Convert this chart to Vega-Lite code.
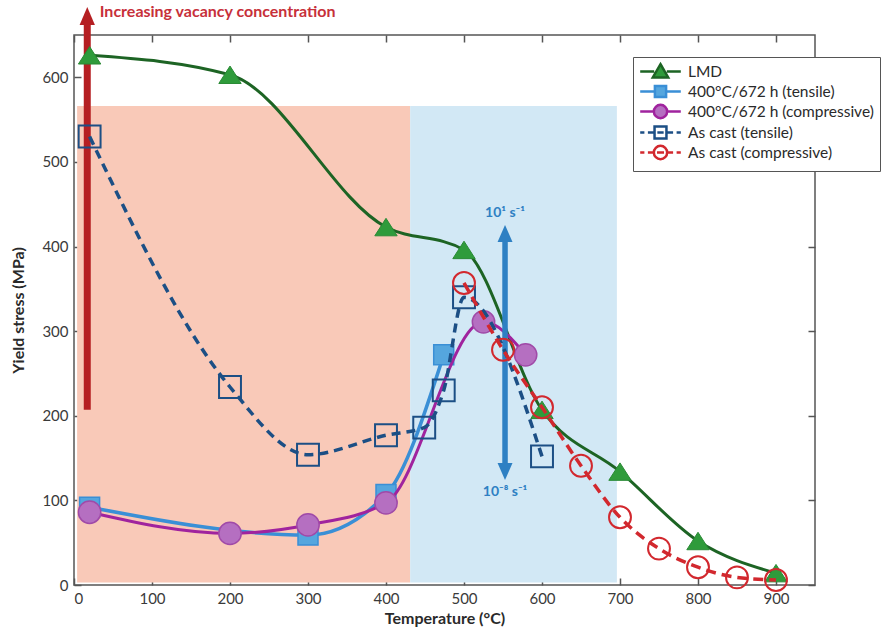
{
  "$schema": "https://vega.github.io/schema/vega-lite/v6.json",
  "width": 741,
  "height": 550,
  "autosize": {"type": "none"},
  "padding": {"left": 74, "top": 35, "right": 68, "bottom": 48},
  "background": "white",
  "datasets": {
    "pts": [
      {"series": "LMD", "t": 20, "s": 626},
      {"series": "LMD", "t": 200, "s": 603},
      {"series": "LMD", "t": 400, "s": 423},
      {"series": "LMD", "t": 500, "s": 396},
      {"series": "LMD", "t": 600, "s": 207},
      {"series": "LMD", "t": 700, "s": 134},
      {"series": "LMD", "t": 800, "s": 52},
      {"series": "LMD", "t": 900, "s": 14},
      {"series": "400°C/672 h (tensile)", "t": 20, "s": 92},
      {"series": "400°C/672 h (tensile)", "t": 300, "s": 59},
      {"series": "400°C/672 h (tensile)", "t": 400, "s": 107},
      {"series": "400°C/672 h (tensile)", "t": 474, "s": 272},
      {"series": "400°C/672 h (compressive)", "t": 20, "s": 86},
      {"series": "400°C/672 h (compressive)", "t": 200, "s": 61},
      {"series": "400°C/672 h (compressive)", "t": 300, "s": 71},
      {"series": "400°C/672 h (compressive)", "t": 400, "s": 97},
      {"series": "400°C/672 h (compressive)", "t": 525, "s": 311},
      {"series": "400°C/672 h (compressive)", "t": 579, "s": 272},
      {"series": "As cast (tensile)", "t": 20, "s": 530},
      {"series": "As cast (tensile)", "t": 200, "s": 234},
      {"series": "As cast (tensile)", "t": 300, "s": 154},
      {"series": "As cast (tensile)", "t": 400, "s": 177},
      {"series": "As cast (tensile)", "t": 449, "s": 186},
      {"series": "As cast (tensile)", "t": 474, "s": 230},
      {"series": "As cast (tensile)", "t": 500, "s": 340},
      {"series": "As cast (tensile)", "t": 600, "s": 152},
      {"series": "As cast (compressive)", "t": 500, "s": 357},
      {"series": "As cast (compressive)", "t": 550, "s": 278},
      {"series": "As cast (compressive)", "t": 600, "s": 210},
      {"series": "As cast (compressive)", "t": 650, "s": 141},
      {"series": "As cast (compressive)", "t": 700, "s": 80},
      {"series": "As cast (compressive)", "t": 750, "s": 43},
      {"series": "As cast (compressive)", "t": 800, "s": 21},
      {"series": "As cast (compressive)", "t": 850, "s": 9},
      {"series": "As cast (compressive)", "t": 900, "s": 6}
    ],
    "bands": [
      {"zone": "pink", "t": 4, "t2": 431, "s": 3, "s2": 566},
      {"zone": "blue", "t": 431, "t2": 696, "s": 3, "s2": 566}
    ],
    "arrows": [
      {"arrow": "vacancy", "t": 17, "s": 207, "s2": 664, "head": 672.6, "dir": "up"},
      {"arrow": "rate", "t": 552.6, "s": 138, "s2": 412, "head": 415.5, "dir": "up"},
      {"arrow": "rate", "t": 552.6, "s": 138, "s2": 412, "head": 134.2, "dir": "down"}
    ],
    "labels": [
      {"kind": "vacancy", "label": "Increasing vacancy concentration", "t": 33, "s": 677},
      {"kind": "rate", "label": "10¹ s⁻¹", "t": 552.6, "s": 440},
      {"kind": "rate", "label": "10⁻⁸ s⁻¹", "t": 552.6, "s": 110}
    ]
  },
  "layer": [
    {
      "encoding": {
        "x": {
          "field": "t", "type": "quantitative",
          "scale": {"domain": [0, 950], "nice": false, "zero": false},
          "axis": {"title": "Temperature (°C)", "values": [0, 100, 200, 300, 400, 500, 600, 700, 800, 900], "titlePadding": 4}
        },
        "y": {
          "field": "s", "type": "quantitative",
          "scale": {"domain": [0, 650], "nice": false},
          "axis": {"title": "Yield stress (MPa)", "values": [0, 100, 200, 300, 400, 500, 600], "titlePadding": 15}
        }
      },
      "layer": [
        {
          "data": {"name": "bands"},
          "transform": [{"filter": {"field": "zone", "equal": "pink"}}],
          "mark": {"type": "rect", "color": "#f9c9b8", "opacity": 1},
          "encoding": {"x2": {"field": "t2"}, "y2": {"field": "s2"}}
        },
        {
          "data": {"name": "bands"},
          "transform": [{"filter": {"field": "zone", "equal": "blue"}}],
          "mark": {"type": "rect", "color": "#d2e8f5", "opacity": 1},
          "encoding": {"x2": {"field": "t2"}, "y2": {"field": "s2"}}
        },
        {
          "data": {"name": "arrows"},
          "transform": [{"filter": {"field": "arrow", "equal": "vacancy"}}],
          "mark": {"type": "rule", "color": "#b51f22", "strokeWidth": 7, "strokeCap": "butt"},
          "encoding": {"y2": {"field": "s2"}}
        },
        {
          "data": {"name": "arrows"},
          "transform": [{"filter": {"field": "arrow", "equal": "vacancy"}}],
          "mark": {"type": "point", "shape": "M0,-1L0.85,1H-0.85Z", "size": 324, "filled": true, "color": "#b51f22", "opacity": 1},
          "encoding": {"y": {"field": "head", "type": "quantitative"}}
        },
        {
          "data": {"name": "labels"},
          "transform": [{"filter": {"field": "kind", "equal": "vacancy"}}],
          "mark": {"type": "text", "align": "left", "baseline": "middle", "font": "Lato", "fontSize": 16, "fontWeight": "bold", "color": "#c7303a"},
          "encoding": {"text": {"field": "label"}}
        },
        {
          "data": {"name": "pts"},
          "transform": [{"filter": {"field": "series", "equal": "LMD"}}],
          "mark": {"type": "line", "interpolate": "monotone", "color": "#1d6424", "strokeWidth": 3}
        },
        {
          "data": {"name": "pts"},
          "transform": [{"filter": {"field": "series", "equal": "LMD"}}],
          "mark": {"type": "point", "shape": "M0,-0.78L1,0.78H-1Z", "size": 500, "filled": true, "fill": "#2f9b3b", "stroke": "#2a8a35", "strokeWidth": 1, "opacity": 1}
        },
        {
          "data": {"name": "pts"},
          "transform": [{"filter": {"field": "series", "equal": "400°C/672 h (tensile)"}}],
          "mark": {"type": "line", "interpolate": "monotone", "color": "#3a8fd6", "strokeWidth": 3.5}
        },
        {
          "data": {"name": "pts"},
          "transform": [{"filter": {"field": "series", "equal": "400°C/672 h (tensile)"}}],
          "mark": {"type": "point", "shape": "square", "size": 400, "filled": true, "fill": "#55a6de", "stroke": "#3a8fd6", "strokeWidth": 1.5, "opacity": 1}
        },
        {
          "data": {"name": "pts"},
          "transform": [{"filter": {"field": "series", "equal": "400°C/672 h (compressive)"}}],
          "mark": {"type": "line", "interpolate": "monotone", "color": "#a0239e", "strokeWidth": 3}
        },
        {
          "data": {"name": "pts"},
          "transform": [{"filter": {"field": "series", "equal": "400°C/672 h (compressive)"}}],
          "mark": {"type": "point", "shape": "circle", "size": 500, "filled": true, "fill": "#b56fc1", "stroke": "#a04aa8", "strokeWidth": 1.5, "opacity": 1}
        },
        {
          "data": {"name": "arrows"},
          "transform": [{"filter": {"field": "arrow", "equal": "rate"}}, {"filter": {"field": "dir", "equal": "up"}}],
          "mark": {"type": "rule", "color": "#2e80c3", "strokeWidth": 5.5, "strokeCap": "butt"},
          "encoding": {"y2": {"field": "s2"}}
        },
        {
          "data": {"name": "arrows"},
          "transform": [{"filter": {"field": "arrow", "equal": "rate"}}, {"filter": {"field": "dir", "equal": "up"}}],
          "mark": {"type": "point", "shape": "M0,-1L0.88,1H-0.88Z", "size": 289, "filled": true, "color": "#2e80c3", "opacity": 1},
          "encoding": {"y": {"field": "head", "type": "quantitative"}}
        },
        {
          "data": {"name": "arrows"},
          "transform": [{"filter": {"field": "arrow", "equal": "rate"}}, {"filter": {"field": "dir", "equal": "down"}}],
          "mark": {"type": "point", "shape": "M0,1L0.88,-1H-0.88Z", "size": 289, "filled": true, "color": "#2e80c3", "opacity": 1},
          "encoding": {"y": {"field": "head", "type": "quantitative"}}
        },
        {
          "data": {"name": "labels"},
          "transform": [{"filter": {"field": "kind", "equal": "rate"}}],
          "mark": {"type": "text", "align": "center", "baseline": "middle", "font": "Lato", "fontSize": 14, "fontWeight": "bold", "color": "#2e80c3"},
          "encoding": {"text": {"field": "label"}}
        },
        {
          "data": {"name": "pts"},
          "transform": [{"filter": {"field": "series", "equal": "As cast (tensile)"}}],
          "mark": {"type": "line", "interpolate": "monotone", "color": "#1c4f85", "strokeWidth": 3.5, "strokeDash": [9, 6]}
        },
        {
          "data": {"name": "pts"},
          "transform": [{"filter": {"field": "series", "equal": "As cast (tensile)"}}],
          "mark": {"type": "point", "shape": "square", "size": 480, "filled": false, "stroke": "#1c4f85", "strokeWidth": 2, "opacity": 1}
        },
        {
          "data": {"name": "pts"},
          "transform": [{"filter": {"field": "series", "equal": "As cast (compressive)"}}],
          "mark": {"type": "line", "interpolate": "monotone", "color": "#d2282e", "strokeWidth": 3.5, "strokeDash": [10, 6]}
        },
        {
          "data": {"name": "pts"},
          "transform": [{"filter": {"field": "series", "equal": "As cast (compressive)"}}],
          "mark": {"type": "point", "shape": "circle", "size": 480, "filled": false, "stroke": "#d2282e", "strokeWidth": 2, "opacity": 1}
        },
        {
          "data": {"values": []},
          "mark": {"type": "point", "filled": true, "size": 196, "strokeWidth": 2.5, "opacity": 1},
          "encoding": {
            "shape": {
              "field": "series", "type": "nominal",
              "scale": {
                "domain": ["LMD", "400°C/672 h (tensile)", "400°C/672 h (compressive)", "As cast (tensile)", "As cast (compressive)"],
                "range": [
                  "M-2.9,0H-0.9M0.9,0H2.9M0,-1.05L1.1,0.85H-1.1Z",
                  "M-2.9,0H-0.8M0.8,0H2.9M-0.8,-0.8H0.8V0.8H-0.8Z",
                  "M-2.9,0H-0.95M0.95,0H2.9M-0.95,0A0.95 0.95 0 1 0 0.95,0A0.95 0.95 0 1 0 -0.95,0Z",
                  "M-2.9,0H-2.3M-1.8,0H-0.85M0.85,0H1.8M2.3,0H2.9M-0.85,-0.85H0.85V0.85H-0.85ZM-0.45,0H0.45",
                  "M-2.9,0H-2.3M-1.8,0H-0.95M0.95,0H1.8M2.3,0H2.9M-0.95,0A0.95 0.95 0 1 0 0.95,0A0.95 0.95 0 1 0 -0.95,0ZM-0.5,0H0.5"
                ]
              },
              "legend": {"orient": "none", "legendX": 559, "legendY": 22, "title": null, "strokeColor": "#555", "fillColor": "white", "padding": 6, "symbolSize": 196, "symbolStrokeWidth": 2.5, "symbolOffset": 13, "labelOffset": 19, "labelLimit": 400, "labelFont": "Lato", "labelFontSize": 15.5, "labelColor": "#2a2a2a", "rowPadding": -4}
            },
            "stroke": {
              "field": "series", "type": "nominal",
              "scale": {
                "domain": ["LMD", "400°C/672 h (tensile)", "400°C/672 h (compressive)", "As cast (tensile)", "As cast (compressive)"],
                "range": ["#1d6424", "#3a8fd6", "#a0239e", "#1c4f85", "#d2282e"]
              },
              "legend": {"orient": "none", "legendX": 559, "legendY": 22, "title": null, "strokeColor": "#555", "fillColor": "white", "padding": 6, "symbolSize": 196, "symbolStrokeWidth": 2.5, "symbolOffset": 13, "labelOffset": 19, "labelLimit": 400, "labelFont": "Lato", "labelFontSize": 15.5, "labelColor": "#2a2a2a", "rowPadding": -4}
            },
            "fill": {
              "field": "series", "type": "nominal",
              "scale": {
                "domain": ["LMD", "400°C/672 h (tensile)", "400°C/672 h (compressive)", "As cast (tensile)", "As cast (compressive)"],
                "range": ["#2f9b3b", "#55a6de", "#b56fc1", "white", "white"]
              },
              "legend": {"orient": "none", "legendX": 559, "legendY": 22, "title": null, "strokeColor": "#555", "fillColor": "white", "padding": 6, "symbolSize": 196, "symbolStrokeWidth": 2.5, "symbolOffset": 13, "labelOffset": 19, "labelLimit": 400, "labelFont": "Lato", "labelFontSize": 15.5, "labelColor": "#2a2a2a", "rowPadding": -4}
            }
          }
        }
      ]
    },
    {
      "data": {"name": "bands"},
      "mark": {"type": "point", "opacity": 0},
      "encoding": {
        "x": {
          "field": "t", "type": "quantitative",
          "scale": {"domain": [0, 950], "nice": false, "zero": false},
          "axis": {"orient": "top", "labels": false, "title": null, "values": [0, 100, 200, 300, 400, 500, 600, 700, 800, 900]}
        },
        "y": {
          "field": "s", "type": "quantitative",
          "scale": {"domain": [0, 650], "nice": false},
          "axis": {"orient": "right", "labels": false, "title": null, "values": [0, 100, 200, 300, 400, 500, 600]}
        }
      }
    }
  ],
  "resolve": {"axis": {"x": "independent", "y": "independent"}},
  "config": {
    "font": "Lato",
    "view": {"stroke": "#555", "strokeWidth": 1.5},
    "axis": {
      "domain": false, "grid": false,
      "tickColor": "#555", "tickSize": -7, "tickWidth": 1.5,
      "labelFont": "Lato", "labelFontSize": 15, "labelColor": "#3a3a3a", "labelPadding": 13,
      "titleFont": "Lato", "titleFontSize": 16, "titleFontWeight": "bold", "titleColor": "#2a2a2a"
    }
  }
}
